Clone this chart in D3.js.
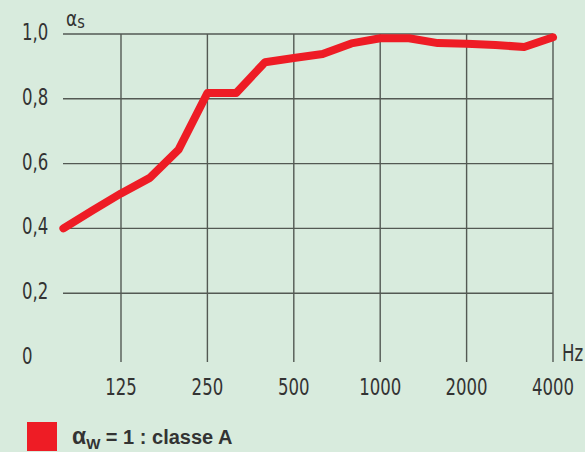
<!DOCTYPE html>
<html>
<head>
<meta charset="utf-8">
<script src="https://cdn.jsdelivr.net/npm/d3@7"></script>
<style>
  html, body { margin: 0; padding: 0; background: #d8ebdd; }
  svg { display: block; }
  .tick-label { font-family: "Liberation Sans Narrow", "DejaVu Sans Condensed", sans-serif; fill: #333; }
</style>
</head>
<body>
<div id="chart"></div>
<script>
// third-octave bands (Hz) and sound absorption coefficient alpha_s
const bands = ['80', '100', '125', '160', '200', '250', '315', '400', '500', '630', '800', '1000', '1250', '1600', '2000', '2500', '3150', '4000'];
const alphaS = [0.40, 0.455, 0.508, 0.556, 0.643, 0.818, 0.818, 0.913, 0.926, 0.938, 0.971, 0.987, 0.987, 0.972, 0.970, 0.966, 0.960, 0.990];
const xTicks = ['125', '250', '500', '1000', '2000', '4000'];
const yTicks = [0, 0.2, 0.4, 0.6, 0.8, 1.0];

const width = 585, height = 452;
const gridColor = '#535953';
const red = '#ee1c25';
const squeeze = 0.8; // the original labels use a condensed face

const svg = d3.select('#chart')
  .append('svg')
  .attr('width', width)
  .attr('height', height);

svg.append('rect')
  .attr('width', width)
  .attr('height', height)
  .attr('fill', '#d8ebdd');

// x: equal spacing per band, 125 Hz at 121, 4000 Hz at 553
const x = d3.scalePoint()
  .domain(bands)
  .range([63.4, 553]);

const y = d3.scaleLinear()
  .domain([0, 1])
  .range([358, 34]);

// horizontal grid (no line at 0)
svg.append('g')
  .selectAll('line')
  .data(yTicks.filter(d => d > 0))
  .enter()
  .append('line')
  .attr('x1', 63)
  .attr('x2', x('4000'))
  .attr('y1', d => y(d))
  .attr('y2', d => y(d))
  .attr('stroke', gridColor)
  .attr('stroke-width', 1.4);

// vertical grid at octave ticks
svg.append('g')
  .selectAll('line')
  .data(xTicks)
  .enter()
  .append('line')
  .attr('x1', d => x(d))
  .attr('x2', d => x(d))
  .attr('y1', y(1))
  .attr('y2', 362)
  .attr('stroke', gridColor)
  .attr('stroke-width', 1.4);

// y tick labels, left aligned
svg.append('g')
  .selectAll('text')
  .data(yTicks)
  .enter()
  .append('text')
  .attr('class', 'tick-label')
  .attr('transform', d => `translate(22,${y(d) + 6}) scale(${squeeze},1)`)
  .style('font-size', '23px')
  .text(d => d === 0 ? '0' : d3.format('.1f')(d).replace('.', ','));

// x tick labels
svg.append('g')
  .selectAll('text')
  .data(xTicks)
  .enter()
  .append('text')
  .attr('class', 'tick-label')
  .attr('transform', d => `translate(${x(d)},395) scale(${squeeze},1)`)
  .attr('text-anchor', 'middle')
  .style('font-size', '23px')
  .text(d => d);

// axis units
svg.append('text')
  .attr('class', 'tick-label')
  .attr('transform', `translate(562,361) scale(${squeeze},1)`)
  .style('font-size', '23px')
  .text('Hz');

const yUnit = svg.append('text')
  .attr('class', 'tick-label')
  .attr('transform', `translate(66,26) scale(0.9,1)`)
  .style('font-size', '21px');
yUnit.append('tspan').text('α');
yUnit.append('tspan').attr('dy', 2).style('font-size', '18px').text('s');

// the curve
const line = d3.line()
  .x((d, i) => x(bands[i]))
  .y(d => y(d));

svg.append('path')
  .datum(alphaS)
  .attr('d', line)
  .attr('fill', 'none')
  .attr('stroke', red)
  .attr('stroke-width', 8)
  .attr('stroke-linejoin', 'round')
  .attr('stroke-linecap', 'round');

// legend
svg.append('rect')
  .attr('x', 27)
  .attr('y', 422)
  .attr('width', 30)
  .attr('height', 29)
  .attr('fill', red);

const legend = svg.append('text')
  .attr('x', 72)
  .attr('y', 444)
  .style('font-family', '"Liberation Sans", Arial, sans-serif')
  .style('font-weight', 'bold')
  .style('font-size', '20px')
  .attr('fill', '#333');
legend.append('tspan').style('font-size', '23px').text('α');
legend.append('tspan').attr('dy', 5).style('font-size', '15px').text('W');
legend.append('tspan').attr('dy', -5).text(' = 1 : classe A');
</script>
</body>
</html>
